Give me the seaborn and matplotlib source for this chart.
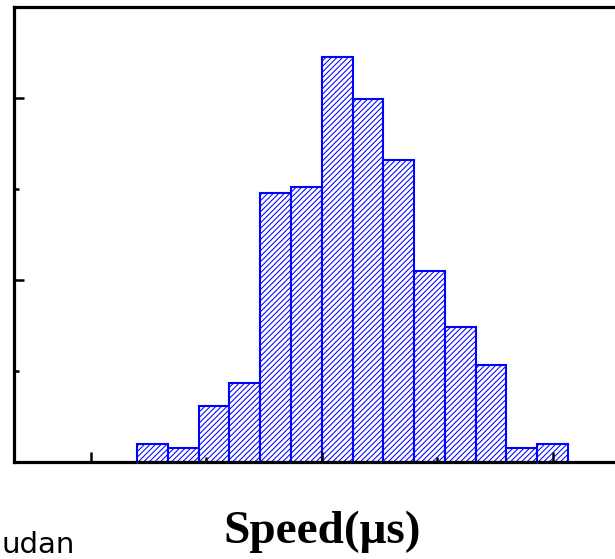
import numpy as np
import pandas as pd
import matplotlib
matplotlib.use("Agg")
import matplotlib.pyplot as plt
from matplotlib.ticker import MultipleLocator
import seaborn as sns

# Histogram bins (speed, μs) and their counts
bin_edges = [36, 40, 44, 48, 52, 56, 60, 64, 68, 72, 76, 80, 84, 88, 92]
counts = [4, 3, 12.3, 17.4, 59.2, 60.5, 89.1, 79.8, 66.5, 42, 29.6, 21.3, 3, 4]
x_label = "Speed(μs)"
corner_text = "udan"

centers = [(a + b) / 2 for a, b in zip(bin_edges[:-1], bin_edges[1:])]
df = pd.DataFrame({"speed": centers, "count": counts})

sns.set_theme(style="white")
plt.rcParams["hatch.color"] = "blue"
plt.rcParams["hatch.linewidth"] = 0.75

fig = plt.figure(figsize=(6.15, 5.59), dpi=100)
W, H = 615, 559
left, right, top, bottom = 14, 629.5, 7.3, 462
ax = fig.add_axes([left / W, 1 - bottom / H, (right - left) / W, (bottom - top) / H])

hatch = "//////"
sns.histplot(data=df, x="speed", weights="count", bins=bin_edges, ax=ax,
             stat="count", element="bars", fill=True,
             facecolor="white", edgecolor="blue", linewidth=1.5,
             hatch=hatch, alpha=1)
for p in ax.patches:
    p.set_hatch(hatch)
    p.set_edgecolor("blue")

ax.set_axisbelow(False)
ax.set_xlim(20, 100)
ax.set_ylim(0, 100)
ax.xaxis.set_major_locator(MultipleLocator(30))
ax.xaxis.set_minor_locator(MultipleLocator(15))
ax.yaxis.set_major_locator(MultipleLocator(40))
ax.yaxis.set_minor_locator(MultipleLocator(20))
ax.tick_params(which="both", direction="in", labelbottom=False, labelleft=False,
               bottom=True, left=True, top=False, right=False, color="black")
ax.tick_params(which="major", length=7, width=1.8)
ax.tick_params(which="minor", length=3.5, width=1.8)
for s in ax.spines.values():
    s.set_visible(True)
    s.set_color("black")
    s.set_linewidth(2.3)
    s.set_zorder(3)
ax.grid(False)
ax.set_ylabel("")

ax.set_xlabel(x_label, family="Liberation Serif", fontweight="bold", fontsize=34,
              color="black")
ax.xaxis.set_label_coords(0.5, -(543 - bottom) / (bottom - top))
ax.xaxis.label.set_va("baseline")

fig.text(1 / W, 1 - 552.7 / H, corner_text, family="DejaVu Sans", fontsize=21,
         ha="left", va="baseline", color="black")

fig.savefig("out.png", dpi=100)
